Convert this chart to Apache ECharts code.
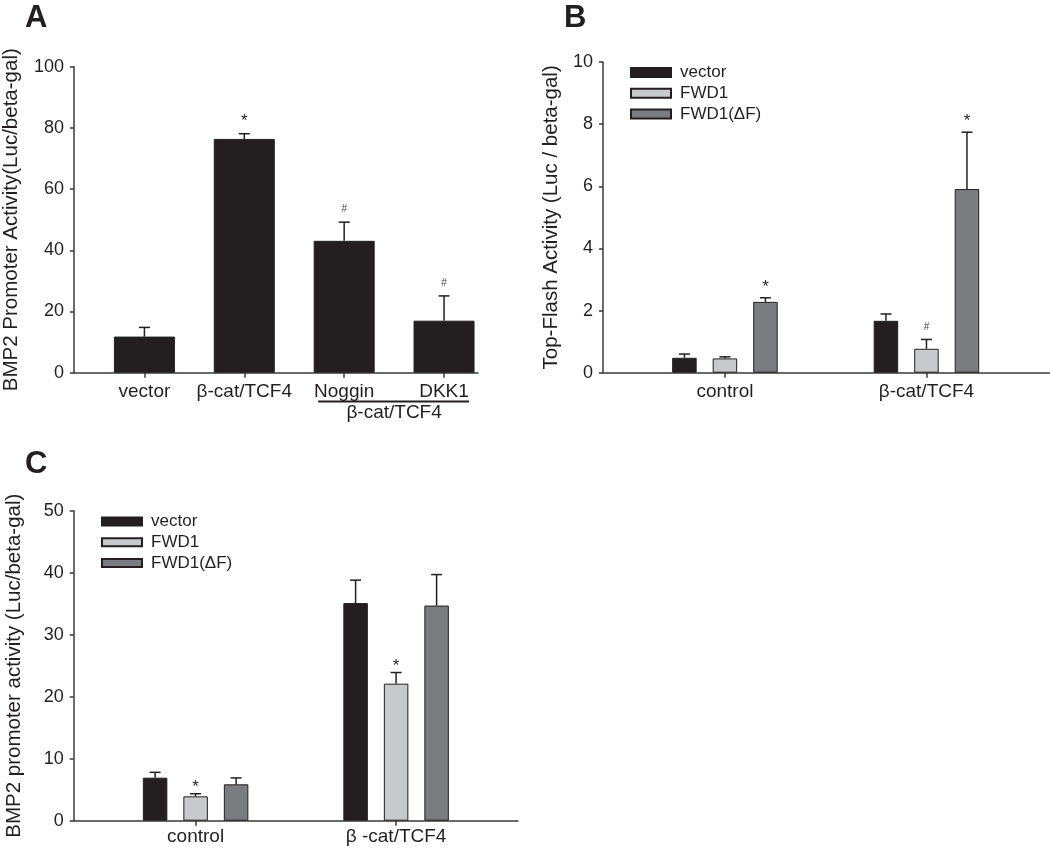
<!DOCTYPE html>
<html><head><meta charset="utf-8">
<script src="https://cdn.jsdelivr.net/npm/echarts@6/dist/echarts.min.js"></script>
<style>html,body{margin:0;padding:0;background:#fff}#c{width:1050px;height:850px}</style>
</head><body><div id="c"></div>
<script>
// ---------- Panel A ----------
const catA = ['vector', 'β-cat/TCF4', 'Noggin', 'DKK1'];
const valA = [11.8, 76.4, 43.1, 17.0];
const errA = [3.0, 1.7, 6.1, 8.1];
const markA = ['', '*', '#', '#'];
const subLabelA = 'β-cat/TCF4';
const ticksA = [0, 20, 40, 60, 80, 100];

// ---------- shared legend names ----------
const seriesNames = ['vector', 'FWD1', 'FWD1(ΔF)'];

// ---------- Panel B ----------
const catB = ['control', 'β-cat/TCF4'];
const bVector = [0.48, 1.67];
const bFWD1 = [0.46, 0.77];
const bFWD1dF = [2.28, 5.91];
const bErrVector = [0.12, 0.22];
const bErrFWD1 = [0.05, 0.30];
const bErrFWD1dF = [0.13, 1.83];
const bMarkVector = ['', ''];
const bMarkFWD1 = ['', '#'];
const bMarkFWD1dF = ['*', '*'];
const ticksB = [0, 2, 4, 6, 8, 10];

// ---------- Panel C ----------
const catC = ['control', 'β -cat/TCF4'];
const cVector = [6.94, 35.1];
const cFWD1 = [3.93, 22.1];
const cFWD1dF = [5.87, 34.7];
const cErrVector = [0.86, 3.7];
const cErrFWD1 = [0.42, 1.8];
const cErrFWD1dF = [1.03, 5.0];
const cMarkVector = ['', ''];
const cMarkFWD1 = ['*', '*'];
const cMarkFWD1dF = ['', ''];
const ticksC = [0, 10, 20, 30, 40, 50];

// ---------- styling ----------
const FONT = '"Liberation Sans", Arial, Helvetica, sans-serif';
const INK = '#231f20';
const COLORS = ['#231f20', '#c8c9cb', '#7b7c7f'];
const AXIS = { color: '#3a3a3a', width: 1.5 };

const chart = echarts.init(document.getElementById('c'), null, { renderer: 'canvas' });

function yAxisCfg(gi, ticks, name, gap) {
  return {
    type: 'value', gridIndex: gi, min: ticks[0], max: ticks[ticks.length - 1],
    interval: ticks[1] - ticks[0],
    axisLine: { show: true, onZero: false, lineStyle: AXIS },
    axisTick: { show: true, length: 4, lineStyle: AXIS },
    axisLabel: { fontSize: 18, margin: 10, color: INK, fontFamily: FONT },
    splitLine: { show: false },
    name: name, nameLocation: 'middle', nameGap: gap,
    nameTextStyle: { fontSize: 20.5, color: INK, fontFamily: FONT }
  };
}
function xAxisCfg(gi, cats, min, max, margin) {
  const idx = cats.map((c, i) => i);
  return {
    type: 'value', gridIndex: gi, min: min, max: max,
    axisLine: { show: true, onZero: false, lineStyle: AXIS },
    axisTick: { show: true, length: 5, customValues: idx, lineStyle: AXIS },
    axisLabel: { show: true, customValues: idx, formatter: v => cats[Math.round(v)] || '',
      fontSize: 19, margin: margin, color: INK, fontFamily: FONT },
    splitLine: { show: false }
  };
}
function errSeries(xi, pts, marks, starOff, hashOff) {
  return {
    type: 'custom', xAxisIndex: xi, yAxisIndex: xi, silent: true, z: 5,
    data: pts, encode: { x: 0, y: 1 },
    renderItem(params, api) {
      const x = api.value(0), v = api.value(1), e = api.value(2);
      const p0 = api.coord([x, v]);
      const p1 = api.coord([x, v + e]);
      const ch = [
        { type: 'line', shape: { x1: p0[0], y1: p0[1], x2: p1[0], y2: p1[1] }, style: { stroke: INK, lineWidth: 1.5 } },
        { type: 'line', shape: { x1: p1[0] - 5.5, y1: p1[1], x2: p1[0] + 5.5, y2: p1[1] }, style: { stroke: INK, lineWidth: 1.5 } }
      ];
      const m = marks[params.dataIndex];
      if (m) {
        const star = m === '*';
        ch.push({ type: 'text', x: p1[0], y: p1[1] - (star ? starOff : hashOff),
          style: { text: m, fill: star ? INK : '#444', fontSize: star ? 17 : 10, fontFamily: FONT,
            align: 'center', verticalAlign: 'middle' } });
      }
      return { type: 'group', children: ch };
    }
  };
}
function barSeries(xi, name, color, xs, ys, w) {
  return {
    type: 'bar', name: name, xAxisIndex: xi, yAxisIndex: xi, barWidth: w, barGap: '-100%',
    itemStyle: { color: color, borderColor: INK, borderWidth: 1 },
    data: xs.map((x, i) => [x, ys[i]]), silent: true
  };
}

// grouped positions
const offB = 0.201, offC = 0.202;
const xsA = catA.map((c, i) => i);
const xsB = k => catB.map((c, i) => i + (k - 1) * offB);
const xsC = k => catC.map((c, i) => i + (k - 1) * offC);

const bVals = [bVector, bFWD1, bFWD1dF], bErrs = [bErrVector, bErrFWD1, bErrFWD1dF], bMarks = [bMarkVector, bMarkFWD1, bMarkFWD1dF];
const cVals = [cVector, cFWD1, cFWD1dF], cErrs = [cErrVector, cErrFWD1, cErrFWD1dF], cMarks = [cMarkVector, cMarkFWD1, cMarkFWD1dF];

const series = [];
series.push(barSeries(0, 'A', COLORS[0], xsA, valA, 61));
series.push(errSeries(0, xsA.map((x, i) => [x, valA[i], errA[i]]), markA, 12, 13));
for (let k = 0; k < 3; k++) {
  series.push(barSeries(1, seriesNames[k], COLORS[k], xsB(k), bVals[k], 24.5));
}
for (let k = 0; k < 3; k++) {
  const xs = xsB(k);
  series.push(errSeries(1, xs.map((x, i) => [x, bVals[k][i], bErrs[k][i]]), bMarks[k], 11, 12.5));
}
for (let k = 0; k < 3; k++) {
  series.push(barSeries(2, seriesNames[k], COLORS[k], xsC(k), cVals[k], 24.5));
}
for (let k = 0; k < 3; k++) {
  const xs = xsC(k);
  series.push(errSeries(2, xs.map((x, i) => [x, cVals[k][i], cErrs[k][i]]), cMarks[k], 6, 8));
}

const legendBase = {
  orient: 'vertical', data: seriesNames, itemWidth: 40, itemHeight: 9, itemGap: 0.7,
  icon: 'rect', padding: 0, selectedMode: false,
  textStyle: { fontSize: 17, lineHeight: 20, color: INK, fontFamily: FONT, padding: [0, 0, 0, 4] }
};

chart.setOption({
  animation: false,
  backgroundColor: '#fff',
  grid: [
    { left: 74, top: 66.7, width: 404, height: 306 },
    { left: 603, top: 62, width: 447, height: 310.7 },
    { left: 73.7, top: 510.7, width: 444.3, height: 310 }
  ],
  xAxis: [
    xAxisCfg(0, catA, -0.705, 3.34, 10),
    xAxisCfg(1, catB, -0.605, 1.613, 10),
    xAxisCfg(2, catC, -0.608, 1.608, 7)
  ],
  yAxis: [
    yAxisCfg(0, ticksA, 'BMP2 Promoter Activity(Luc/beta-gal)', 52),
    yAxisCfg(1, ticksB, 'Top-Flash Activity (Luc / beta-gal)', 41),
    yAxisCfg(2, ticksC, 'BMP2 promoter activity (Luc/beta-gal)', 49)
  ],
  legend: [
    Object.assign({}, legendBase, { left: 630, top: 62.5 }),
    Object.assign({}, legendBase, { left: 101, top: 511.5, itemHeight: 8 })
  ],
  series: series
});

// annotations: panel letters, underline + shared sub-label for panel A
const pNog = chart.convertToPixel({ xAxisIndex: 0 }, 2);
const pDkk = chart.convertToPixel({ xAxisIndex: 0 }, 3);
chart.setOption({
  graphic: [
    { type: 'text', left: 25, top: 3, style: { text: 'A', font: 'bold 31px ' + FONT, fill: INK } },
    { type: 'text', left: 564, top: 3, style: { text: 'B', font: 'bold 31px ' + FONT, fill: INK } },
    { type: 'text', left: 25, top: 449, style: { text: 'C', font: 'bold 31px ' + FONT, fill: INK } },
    { type: 'line', shape: { x1: pNog - 26, y1: 401.5, x2: pDkk + 25, y2: 401.5 }, style: { stroke: INK, lineWidth: 1.8 } },
    { type: 'text', x: (pNog + pDkk) / 2, y: 413, style: { text: subLabelA, fontSize: 19, fontFamily: FONT, fill: INK, align: 'center', verticalAlign: 'middle' } }
  ]
});
</script>
</body></html>
